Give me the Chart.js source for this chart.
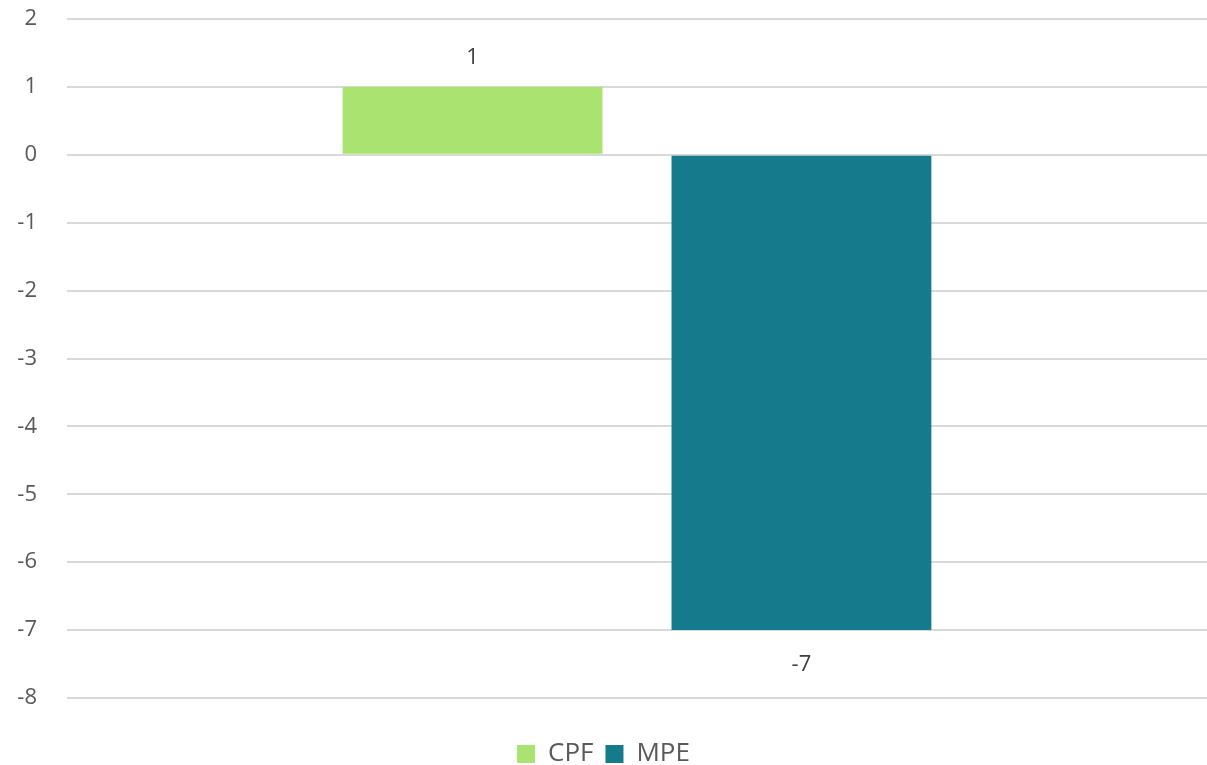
<!DOCTYPE html>
<html>
<head>
<meta charset="utf-8">
<script src="https://cdn.jsdelivr.net/npm/chart.js@4"></script>
<style>
  html, body { margin: 0; padding: 0; background: #fff; }
  #wrap { width: 1207px; height: 765px; }
</style>
</head>
<body>
<div id="wrap"><canvas id="chart"></canvas></div>
<script>
const categories = [''];
const seriesNames = ['CPF', 'MPE'];
const cpfValues = [1];
const mpeValues = [-7];
const yTicks = [-8, -7, -6, -5, -4, -3, -2, -1, 0, 1, 2];

const valueLabels = {
    id: 'valueLabels',
    afterDatasetsDraw(chart) {
        const ctx = chart.ctx;
        ctx.save();
        ctx.font = '22px "Open Sans"';
        ctx.fillStyle = '#404040';
        ctx.textAlign = 'center';
        ctx.textBaseline = 'middle';
        chart.data.datasets.forEach((ds, i) => {
            chart.getDatasetMeta(i).data.forEach((bar, j) => {
                const v = ds.data[j];
                const y = v >= 0 ? bar.y - 29 : bar.y + 35;
                ctx.fillText(String(v), bar.x, y);
            });
        });
        ctx.restore();
    }
};

const ctx = document.querySelector('#chart').getContext('2d');
const chart = new Chart(ctx, {
    type: 'bar',
    data: {
        labels: categories,
        datasets: [{
            label: seriesNames[0],
            data: cpfValues,
            backgroundColor: '#abe370'
        }, {
            label: seriesNames[1],
            data: mpeValues,
            backgroundColor: '#157a8b'
        }]
    },
    options: {
        responsive: true,
        maintainAspectRatio: false,
        animation: false,
        categoryPercentage: 0.577,
        barPercentage: 0.79,
        layout: {
            padding: { top: 19, right: 0, bottom: -12, left: 0 }
        },
        plugins: {
            legend: {
                position: 'bottom',
                labels: {
                    font: { family: 'Open Sans', size: 26 },
                    color: '#595959',
                    boxWidth: 18,
                    boxHeight: 18,
                    padding: 12
                }
            },
            tooltip: { enabled: false }
        },
        scales: {
            x: {
                display: true,
                grid: { display: false },
                border: { display: false },
                ticks: { display: false },
                afterFit(scale) {
                    scale.height = 31;
                }
            },
            y: {
                min: -8,
                max: 2,
                afterBuildTicks(scale) {
                    scale.ticks = yTicks.map(v => ({ value: v }));
                },
                afterFit(scale) {
                    scale.width = 67;
                    scale.paddingTop = 0;
                    scale.paddingBottom = 0;
                },
                border: { display: false },
                grid: {
                    color: '#d9d9d9',
                    lineWidth: 2,
                    drawTicks: false
                },
                ticks: {
                    font: { family: 'Open Sans', size: 22 },
                    color: '#595959',
                    padding: 30
                }
            }
        }
    },
    plugins: [valueLabels]
});
</script>
</body>
</html>
